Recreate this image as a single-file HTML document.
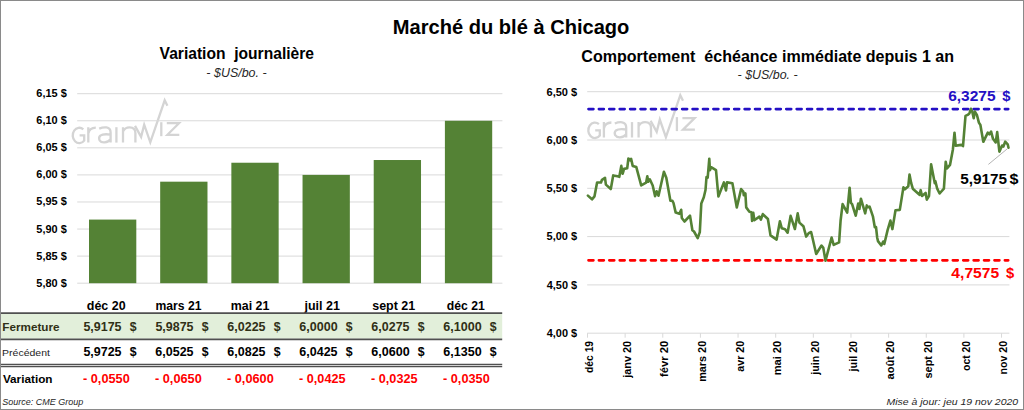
<!DOCTYPE html>
<html><head><meta charset="utf-8">
<style>
html,body{margin:0;padding:0;background:#fff;}
body{width:1024px;height:410px;overflow:hidden;position:relative;}
svg{position:absolute;left:0;top:0;font-family:"Liberation Sans", sans-serif;} text{white-space:pre;}
.frame{position:absolute;left:0;top:0;width:1022px;height:408px;border:1px solid #8a8a8a;}
</style></head><body>
<svg width="1024" height="410" viewBox="0 0 1024 410">
<text x="392.76" y="34.30" font-size="20.9" font-weight="bold" font-style="normal" fill="#000" textLength="236.63" lengthAdjust="spacingAndGlyphs">Marché du blé à Chicago</text>
<text x="159.59" y="59.30" font-size="15.8" font-weight="bold" font-style="normal" fill="#000" textLength="154.44" lengthAdjust="spacingAndGlyphs">Variation  journalière</text>
<text x="206.36" y="77.00" font-size="12.0" font-weight="normal" font-style="italic" fill="#262626" textLength="60.22" lengthAdjust="spacingAndGlyphs">- $US/bo. -</text>
<text x="581.34" y="62.30" font-size="16.1" font-weight="bold" font-style="normal" fill="#000" textLength="372.75" lengthAdjust="spacingAndGlyphs">Comportement  échéance immédiate depuis 1 an</text>
<text x="737.56" y="79.30" font-size="12.0" font-weight="normal" font-style="italic" fill="#262626" textLength="60.12" lengthAdjust="spacingAndGlyphs">- $US/bo. -</text>
<g transform="translate(0,0)" fill="none" stroke="#d4d4d4" stroke-width="2.3" stroke-linejoin="miter"><path d="M83.3,129.3 A6.6,7.7 0 1 0 84.2,140.6 L84.2,135.4 L79.6,135.4"/><path d="M88.3,127.2 L88.3,142.6 M88.3,133.5 Q89.5,127.8 95.8,127.6"/><path d="M99.2,128.6 Q103,127 106.5,127.4 Q110.6,128 110.6,132.5 L110.6,142.6 M110.6,134.6 Q103,133.6 100.3,135.6 Q98.3,137.5 99.6,140.3 Q101,142.6 104.5,142.4 Q108.6,142 110.6,139.3"/><path d="M116.4,127.2 L116.4,142.6"/><path d="M123.0,127.2 L123.0,142.6 M123.0,131.4 Q125,127.3 129.5,127.3 Q135.4,127.3 135.4,133 L135.4,142.6"/><polyline points="135.0,125.9 141.1,136.9 144.2,124.7 150.3,142.3 164.7,100.3 167.4,105.8"/><line x1="161.3" y1="122.2" x2="161.3" y2="136.2"/><polyline points="166.8,123.2 179,123.2 167.4,134.8 179.3,134.8"/></g>
<g transform="translate(515.6,-5.1)" fill="none" stroke="#d4d4d4" stroke-width="2.3" stroke-linejoin="miter"><path d="M83.3,129.3 A6.6,7.7 0 1 0 84.2,140.6 L84.2,135.4 L79.6,135.4"/><path d="M88.3,127.2 L88.3,142.6 M88.3,133.5 Q89.5,127.8 95.8,127.6"/><path d="M99.2,128.6 Q103,127 106.5,127.4 Q110.6,128 110.6,132.5 L110.6,142.6 M110.6,134.6 Q103,133.6 100.3,135.6 Q98.3,137.5 99.6,140.3 Q101,142.6 104.5,142.4 Q108.6,142 110.6,139.3"/><path d="M116.4,127.2 L116.4,142.6"/><path d="M123.0,127.2 L123.0,142.6 M123.0,131.4 Q125,127.3 129.5,127.3 Q135.4,127.3 135.4,133 L135.4,142.6"/><polyline points="135.0,125.9 141.1,136.9 144.2,124.7 150.3,142.3 164.7,100.3 167.4,105.8"/><line x1="161.3" y1="122.2" x2="161.3" y2="136.2"/><polyline points="166.8,123.2 179,123.2 167.4,134.8 179.3,134.8"/></g>
<line x1="77.20" y1="93.70" x2="502.40" y2="93.70" stroke="#d9d9d9" stroke-width="1" />
<text x="36.30" y="97.20" font-size="11.5" font-weight="bold" font-style="normal" fill="#000" textLength="30.46" lengthAdjust="spacingAndGlyphs">6,15 $</text>
<line x1="77.20" y1="120.77" x2="502.40" y2="120.77" stroke="#d9d9d9" stroke-width="1" />
<text x="36.30" y="124.27" font-size="11.5" font-weight="bold" font-style="normal" fill="#000" textLength="30.46" lengthAdjust="spacingAndGlyphs">6,10 $</text>
<line x1="77.20" y1="147.84" x2="502.40" y2="147.84" stroke="#d9d9d9" stroke-width="1" />
<text x="36.30" y="151.34" font-size="11.5" font-weight="bold" font-style="normal" fill="#000" textLength="30.46" lengthAdjust="spacingAndGlyphs">6,05 $</text>
<line x1="77.20" y1="174.91" x2="502.40" y2="174.91" stroke="#d9d9d9" stroke-width="1" />
<text x="36.30" y="178.41" font-size="11.5" font-weight="bold" font-style="normal" fill="#000" textLength="30.46" lengthAdjust="spacingAndGlyphs">6,00 $</text>
<line x1="77.20" y1="201.98" x2="502.40" y2="201.98" stroke="#d9d9d9" stroke-width="1" />
<text x="36.36" y="205.48" font-size="11.5" font-weight="bold" font-style="normal" fill="#000" textLength="30.39" lengthAdjust="spacingAndGlyphs">5,95 $</text>
<line x1="77.20" y1="229.05" x2="502.40" y2="229.05" stroke="#d9d9d9" stroke-width="1" />
<text x="36.36" y="232.55" font-size="11.5" font-weight="bold" font-style="normal" fill="#000" textLength="30.39" lengthAdjust="spacingAndGlyphs">5,90 $</text>
<line x1="77.20" y1="256.12" x2="502.40" y2="256.12" stroke="#d9d9d9" stroke-width="1" />
<text x="36.36" y="259.62" font-size="11.5" font-weight="bold" font-style="normal" fill="#000" textLength="30.39" lengthAdjust="spacingAndGlyphs">5,85 $</text>
<line x1="77.20" y1="283.19" x2="502.40" y2="283.19" stroke="#d9d9d9" stroke-width="1" />
<text x="36.36" y="286.69" font-size="11.5" font-weight="bold" font-style="normal" fill="#000" textLength="30.39" lengthAdjust="spacingAndGlyphs">5,80 $</text>
<rect x="89.00" y="219.58" width="47.30" height="63.61" fill="#548235"/>
<rect x="160.18" y="181.68" width="47.30" height="101.51" fill="#548235"/>
<rect x="231.36" y="162.73" width="47.30" height="120.46" fill="#548235"/>
<rect x="302.54" y="174.91" width="47.30" height="108.28" fill="#548235"/>
<rect x="373.72" y="160.02" width="47.30" height="123.17" fill="#548235"/>
<rect x="444.90" y="120.77" width="47.30" height="162.42" fill="#548235"/>
<rect x="1.00" y="314.00" width="501.20" height="24.60" fill="#e2efda"/>
<text x="86.79" y="309.60" font-size="12.2" font-weight="bold" font-style="normal" fill="#000" textLength="38.82" lengthAdjust="spacingAndGlyphs">déc 20</text>
<text x="83.42" y="330.70" font-size="12.6" font-weight="bold" font-style="normal" fill="#303016" textLength="38.13" lengthAdjust="spacingAndGlyphs">5,9175</text>
<text x="129.64" y="330.70" font-size="12.6" font-weight="bold" font-style="normal" fill="#303016" textLength="6.84" lengthAdjust="spacingAndGlyphs">$</text>
<text x="83.42" y="356.20" font-size="12.6" font-weight="bold" font-style="normal" fill="#000" textLength="38.13" lengthAdjust="spacingAndGlyphs">5,9725</text>
<text x="129.64" y="356.20" font-size="12.6" font-weight="bold" font-style="normal" fill="#000" textLength="6.84" lengthAdjust="spacingAndGlyphs">$</text>
<text x="83.00" y="383.20" font-size="12.6" font-weight="bold" font-style="normal" fill="#ff0000" textLength="46.72" lengthAdjust="spacingAndGlyphs">- 0,0550</text>
<text x="155.50" y="309.60" font-size="12.2" font-weight="bold" font-style="normal" fill="#000" textLength="46.04" lengthAdjust="spacingAndGlyphs">mars 21</text>
<text x="155.42" y="330.70" font-size="12.6" font-weight="bold" font-style="normal" fill="#303016" textLength="38.13" lengthAdjust="spacingAndGlyphs">5,9875</text>
<text x="201.64" y="330.70" font-size="12.6" font-weight="bold" font-style="normal" fill="#303016" textLength="6.84" lengthAdjust="spacingAndGlyphs">$</text>
<text x="155.34" y="356.20" font-size="12.6" font-weight="bold" font-style="normal" fill="#000" textLength="38.21" lengthAdjust="spacingAndGlyphs">6,0525</text>
<text x="201.64" y="356.20" font-size="12.6" font-weight="bold" font-style="normal" fill="#000" textLength="6.84" lengthAdjust="spacingAndGlyphs">$</text>
<text x="155.00" y="383.20" font-size="12.6" font-weight="bold" font-style="normal" fill="#ff0000" textLength="46.72" lengthAdjust="spacingAndGlyphs">- 0,0650</text>
<text x="230.78" y="309.60" font-size="12.2" font-weight="bold" font-style="normal" fill="#000" textLength="38.66" lengthAdjust="spacingAndGlyphs">mai 21</text>
<text x="227.34" y="330.70" font-size="12.6" font-weight="bold" font-style="normal" fill="#303016" textLength="38.21" lengthAdjust="spacingAndGlyphs">6,0225</text>
<text x="273.64" y="330.70" font-size="12.6" font-weight="bold" font-style="normal" fill="#303016" textLength="6.84" lengthAdjust="spacingAndGlyphs">$</text>
<text x="227.34" y="356.20" font-size="12.6" font-weight="bold" font-style="normal" fill="#000" textLength="38.21" lengthAdjust="spacingAndGlyphs">6,0825</text>
<text x="273.64" y="356.20" font-size="12.6" font-weight="bold" font-style="normal" fill="#000" textLength="6.84" lengthAdjust="spacingAndGlyphs">$</text>
<text x="227.00" y="383.20" font-size="12.6" font-weight="bold" font-style="normal" fill="#ff0000" textLength="46.72" lengthAdjust="spacingAndGlyphs">- 0,0600</text>
<text x="304.49" y="309.60" font-size="12.2" font-weight="bold" font-style="normal" fill="#000" textLength="35.35" lengthAdjust="spacingAndGlyphs">juil 21</text>
<text x="299.34" y="330.70" font-size="12.6" font-weight="bold" font-style="normal" fill="#303016" textLength="38.37" lengthAdjust="spacingAndGlyphs">6,0000</text>
<text x="345.64" y="330.70" font-size="12.6" font-weight="bold" font-style="normal" fill="#303016" textLength="6.84" lengthAdjust="spacingAndGlyphs">$</text>
<text x="299.34" y="356.20" font-size="12.6" font-weight="bold" font-style="normal" fill="#000" textLength="38.21" lengthAdjust="spacingAndGlyphs">6,0425</text>
<text x="345.64" y="356.20" font-size="12.6" font-weight="bold" font-style="normal" fill="#000" textLength="6.84" lengthAdjust="spacingAndGlyphs">$</text>
<text x="299.00" y="383.20" font-size="12.6" font-weight="bold" font-style="normal" fill="#ff0000" textLength="46.55" lengthAdjust="spacingAndGlyphs">- 0,0425</text>
<text x="372.26" y="309.60" font-size="12.2" font-weight="bold" font-style="normal" fill="#000" textLength="42.99" lengthAdjust="spacingAndGlyphs">sept 21</text>
<text x="371.34" y="330.70" font-size="12.6" font-weight="bold" font-style="normal" fill="#303016" textLength="38.21" lengthAdjust="spacingAndGlyphs">6,0275</text>
<text x="417.64" y="330.70" font-size="12.6" font-weight="bold" font-style="normal" fill="#303016" textLength="6.84" lengthAdjust="spacingAndGlyphs">$</text>
<text x="371.34" y="356.20" font-size="12.6" font-weight="bold" font-style="normal" fill="#000" textLength="38.37" lengthAdjust="spacingAndGlyphs">6,0600</text>
<text x="417.64" y="356.20" font-size="12.6" font-weight="bold" font-style="normal" fill="#000" textLength="6.84" lengthAdjust="spacingAndGlyphs">$</text>
<text x="371.00" y="383.20" font-size="12.6" font-weight="bold" font-style="normal" fill="#ff0000" textLength="46.55" lengthAdjust="spacingAndGlyphs">- 0,0325</text>
<text x="446.80" y="309.60" font-size="12.2" font-weight="bold" font-style="normal" fill="#000" textLength="37.94" lengthAdjust="spacingAndGlyphs">déc 21</text>
<text x="443.34" y="330.70" font-size="12.6" font-weight="bold" font-style="normal" fill="#303016" textLength="38.37" lengthAdjust="spacingAndGlyphs">6,1000</text>
<text x="489.64" y="330.70" font-size="12.6" font-weight="bold" font-style="normal" fill="#303016" textLength="6.84" lengthAdjust="spacingAndGlyphs">$</text>
<text x="443.34" y="356.20" font-size="12.6" font-weight="bold" font-style="normal" fill="#000" textLength="38.37" lengthAdjust="spacingAndGlyphs">6,1350</text>
<text x="489.64" y="356.20" font-size="12.6" font-weight="bold" font-style="normal" fill="#000" textLength="6.84" lengthAdjust="spacingAndGlyphs">$</text>
<text x="443.00" y="383.20" font-size="12.6" font-weight="bold" font-style="normal" fill="#ff0000" textLength="46.72" lengthAdjust="spacingAndGlyphs">- 0,0350</text>
<text x="2.32" y="330.70" font-size="11.5" font-weight="bold" font-style="normal" fill="#303016" textLength="57.18" lengthAdjust="spacingAndGlyphs">Fermeture</text>
<text x="2.14" y="355.90" font-size="9.6" font-weight="normal" font-style="normal" fill="#1e1e1e" textLength="47.74" lengthAdjust="spacingAndGlyphs">Précédent</text>
<text x="2.92" y="382.90" font-size="11.8" font-weight="bold" font-style="normal" fill="#000" textLength="49.60" lengthAdjust="spacingAndGlyphs">Variation</text>
<text x="2.35" y="404.50" font-size="9.9" font-weight="normal" font-style="italic" fill="#262626" textLength="80.94" lengthAdjust="spacingAndGlyphs">Source: CME Group</text>
<line x1="1.00" y1="313.20" x2="502.20" y2="313.20" stroke="#505050" stroke-width="1.7" />
<line x1="1.00" y1="339.30" x2="502.20" y2="339.30" stroke="#505050" stroke-width="1.7" />
<line x1="1.00" y1="364.50" x2="502.20" y2="364.50" stroke="#505050" stroke-width="1.3" />
<line x1="1.00" y1="366.60" x2="502.20" y2="366.60" stroke="#505050" stroke-width="1.3" />
<line x1="587.20" y1="91.70" x2="1009.40" y2="91.70" stroke="#d9d9d9" stroke-width="1" />
<text x="546.50" y="95.50" font-size="11.5" font-weight="bold" font-style="normal" fill="#000" textLength="30.66" lengthAdjust="spacingAndGlyphs">6,50 $</text>
<line x1="587.20" y1="140.00" x2="1009.40" y2="140.00" stroke="#d9d9d9" stroke-width="1" />
<text x="546.50" y="143.80" font-size="11.5" font-weight="bold" font-style="normal" fill="#000" textLength="30.66" lengthAdjust="spacingAndGlyphs">6,00 $</text>
<line x1="587.20" y1="188.30" x2="1009.40" y2="188.30" stroke="#d9d9d9" stroke-width="1" />
<text x="546.56" y="192.10" font-size="11.5" font-weight="bold" font-style="normal" fill="#000" textLength="30.59" lengthAdjust="spacingAndGlyphs">5,50 $</text>
<line x1="587.20" y1="236.60" x2="1009.40" y2="236.60" stroke="#d9d9d9" stroke-width="1" />
<text x="546.56" y="240.40" font-size="11.5" font-weight="bold" font-style="normal" fill="#000" textLength="30.59" lengthAdjust="spacingAndGlyphs">5,00 $</text>
<line x1="587.20" y1="284.90" x2="1009.40" y2="284.90" stroke="#d9d9d9" stroke-width="1" />
<text x="546.73" y="288.70" font-size="11.5" font-weight="bold" font-style="normal" fill="#000" textLength="30.42" lengthAdjust="spacingAndGlyphs">4,50 $</text>
<line x1="587.20" y1="333.20" x2="1009.40" y2="333.20" stroke="#d9d9d9" stroke-width="1" />
<text x="546.73" y="337.00" font-size="11.5" font-weight="bold" font-style="normal" fill="#000" textLength="30.42" lengthAdjust="spacingAndGlyphs">4,00 $</text>
<line x1="587.50" y1="333.20" x2="587.50" y2="337.70" stroke="#d9d9d9" stroke-width="1" />
<text transform="translate(593.10,372.50) rotate(-90)" x="-0.42" y="0.00" font-size="10.8" font-weight="bold" font-style="normal" fill="#000" textLength="32.00" lengthAdjust="spacingAndGlyphs">déc 19</text>
<line x1="625.14" y1="333.20" x2="625.14" y2="337.70" stroke="#d9d9d9" stroke-width="1" />
<text transform="translate(630.74,377.90) rotate(-90)" x="0.17" y="0.00" font-size="10.8" font-weight="bold" font-style="normal" fill="#000" textLength="36.88" lengthAdjust="spacingAndGlyphs">janv 20</text>
<line x1="662.78" y1="333.20" x2="662.78" y2="337.70" stroke="#d9d9d9" stroke-width="1" />
<text transform="translate(668.38,376.80) rotate(-90)" x="-0.19" y="0.00" font-size="10.8" font-weight="bold" font-style="normal" fill="#000" textLength="36.15" lengthAdjust="spacingAndGlyphs">févr 20</text>
<line x1="700.42" y1="333.20" x2="700.42" y2="337.70" stroke="#d9d9d9" stroke-width="1" />
<text transform="translate(706.02,381.10) rotate(-90)" x="-0.71" y="0.00" font-size="10.8" font-weight="bold" font-style="normal" fill="#000" textLength="40.96" lengthAdjust="spacingAndGlyphs">mars 20</text>
<line x1="738.06" y1="333.20" x2="738.06" y2="337.70" stroke="#d9d9d9" stroke-width="1" />
<text transform="translate(743.66,371.40) rotate(-90)" x="-0.31" y="0.00" font-size="10.8" font-weight="bold" font-style="normal" fill="#000" textLength="30.85" lengthAdjust="spacingAndGlyphs">avr 20</text>
<line x1="775.70" y1="333.20" x2="775.70" y2="337.70" stroke="#d9d9d9" stroke-width="1" />
<text transform="translate(781.30,374.60) rotate(-90)" x="-0.73" y="0.00" font-size="10.8" font-weight="bold" font-style="normal" fill="#000" textLength="34.48" lengthAdjust="spacingAndGlyphs">mai 20</text>
<line x1="813.34" y1="333.20" x2="813.34" y2="337.70" stroke="#d9d9d9" stroke-width="1" />
<text transform="translate(818.94,374.80) rotate(-90)" x="0.17" y="0.00" font-size="10.8" font-weight="bold" font-style="normal" fill="#000" textLength="33.77" lengthAdjust="spacingAndGlyphs">juin 20</text>
<line x1="850.98" y1="333.20" x2="850.98" y2="337.70" stroke="#d9d9d9" stroke-width="1" />
<text transform="translate(856.58,371.60) rotate(-90)" x="0.17" y="0.00" font-size="10.8" font-weight="bold" font-style="normal" fill="#000" textLength="30.57" lengthAdjust="spacingAndGlyphs">juil 20</text>
<line x1="888.62" y1="333.20" x2="888.62" y2="337.70" stroke="#d9d9d9" stroke-width="1" />
<text transform="translate(894.22,379.10) rotate(-90)" x="-0.32" y="0.00" font-size="10.8" font-weight="bold" font-style="normal" fill="#000" textLength="38.57" lengthAdjust="spacingAndGlyphs">août 20</text>
<line x1="926.26" y1="333.20" x2="926.26" y2="337.70" stroke="#d9d9d9" stroke-width="1" />
<text transform="translate(931.86,378.10) rotate(-90)" x="-0.38" y="0.00" font-size="10.8" font-weight="bold" font-style="normal" fill="#000" textLength="37.63" lengthAdjust="spacingAndGlyphs">sept 20</text>
<line x1="963.90" y1="333.20" x2="963.90" y2="337.70" stroke="#d9d9d9" stroke-width="1" />
<text transform="translate(969.50,370.50) rotate(-90)" x="-0.41" y="0.00" font-size="10.8" font-weight="bold" font-style="normal" fill="#000" textLength="30.03" lengthAdjust="spacingAndGlyphs">oct 20</text>
<line x1="1001.54" y1="333.20" x2="1001.54" y2="337.70" stroke="#d9d9d9" stroke-width="1" />
<text transform="translate(1007.14,373.80) rotate(-90)" x="-0.70" y="0.00" font-size="10.8" font-weight="bold" font-style="normal" fill="#000" textLength="33.64" lengthAdjust="spacingAndGlyphs">nov 20</text>
<line x1="588.50" y1="109.10" x2="1008.20" y2="109.10" stroke="#2410c4" stroke-width="2.7" stroke-dasharray="4.9 5.51" stroke-linecap="round"/>
<line x1="588.50" y1="260.30" x2="1008.20" y2="260.30" stroke="#ff0000" stroke-width="2.7" stroke-dasharray="4.9 5.51" stroke-linecap="round"/>
<polyline points="587.9,195.6 592.0,199.3 594.5,196.3 597.1,182.5 601.0,182.5 602.0,179.8 605.0,177.8 605.9,184.6 610.8,189.0 613.2,175.4 617.6,176.3 619.3,176.8 621.3,165.9 622.6,173.8 624.1,168.9 627.2,168.3 628.4,158.5 630.2,160.4 631.1,158.8 632.7,165.9 636.3,167.1 641.2,185.4 646.1,182.7 647.3,176.2 648.2,181.7 649.8,179.3 652.7,185.5 655.1,196.2 656.6,191.3 658.5,195.7 663.9,171.8 666.3,177.7 670.4,200.8 672.4,200.8 673.5,203.0 675.7,212.6 679.4,213.8 681.2,209.8 681.8,218.0 684.5,221.5 690.0,215.6 692.4,230.2 694.0,231.5 697.7,238.2 699.8,232.1 701.3,203.4 703.8,197.3 705.5,190.0 706.5,177.0 707.7,177.6 709.3,158.7 709.9,170.2 711.1,167.2 716.0,170.2 718.4,196.5 723.9,182.4 726.0,190.4 727.0,182.4 732.4,183.3 736.8,207.4 741.1,189.1 743.3,191.6 743.8,195.2 745.4,193.4 746.2,207.4 749.4,211.7 751.5,212.3 752.1,220.9 753.3,212.9 754.3,220.2 759.4,216.6 760.9,219.6 762.8,214.1 767.9,219.0 770.5,235.4 776.6,239.6 779.9,221.3 781.8,228.3 785.1,229.3 787.6,232.7 790.6,215.9 794.9,229.0 797.7,213.4 799.4,222.6 803.4,226.2 806.2,236.6 808.7,233.2 811.1,232.0 812.3,237.0 816.2,254.0 821.5,245.5 823.3,247.9 825.5,260.7 831.6,237.6 833.7,244.9 839.1,242.4 840.6,220.5 842.6,204.1 847.2,212.7 849.6,187.7 850.9,202.9 852.1,204.1 855.7,215.7 858.2,203.5 859.4,209.0 860.9,198.7 865.2,213.3 866.8,205.4 868.0,207.2 869.6,206.6 872.9,216.3 874.8,227.3 876.0,227.0 877.2,237.7 878.0,241.1 881.3,245.5 883.2,241.5 884.3,244.0 887.6,230.1 890.4,220.6 892.4,229.1 895.5,210.2 899.8,209.9 903.4,187.4 904.9,189.3 908.3,186.2 909.5,174.6 911.2,183.2 912.8,188.7 919.5,194.8 920.7,190.2 922.0,196.0 925.6,192.9 926.8,199.6 929.0,196.0 931.1,164.3 934.8,183.2 935.4,181.3 937.2,188.7 939.6,193.5 943.9,188.7 945.7,161.8 947.0,168.5 950.0,164.9 952.9,149.4 954.5,132.7 955.7,145.7 959.4,145.1 961.5,144.9 963.0,146.1 965.5,115.9 967.6,114.9 969.4,113.4 970.9,108.8 972.4,112.2 973.7,118.3 974.9,111.6 977.0,115.2 978.9,122.6 980.4,125.0 983.3,141.8 987.8,132.7 989.4,134.3 991.1,131.5 993.0,138.8 995.7,142.4 997.2,132.1 999.4,151.6 1002.1,145.5 1003.3,146.7 1005.2,141.6 1007.7,144.3 1008.5,147.7" fill="none" stroke="#548235" stroke-width="2.6" stroke-linejoin="round" stroke-linecap="round"/>
<text x="948.23" y="101.00" font-size="14.8" font-weight="bold" font-style="normal" fill="#2410c4" textLength="47.30" lengthAdjust="spacingAndGlyphs">6,3275</text>
<text x="1002.21" y="101.00" font-size="14.8" font-weight="bold" font-style="normal" fill="#2410c4" textLength="8.20" lengthAdjust="spacingAndGlyphs">$</text>
<text x="951.36" y="277.80" font-size="14.8" font-weight="bold" font-style="normal" fill="#ff0000" textLength="47.77" lengthAdjust="spacingAndGlyphs">4,7575</text>
<text x="1005.91" y="277.80" font-size="14.8" font-weight="bold" font-style="normal" fill="#ff0000" textLength="8.20" lengthAdjust="spacingAndGlyphs">$</text>
<text x="960.23" y="183.90" font-size="15.0" font-weight="bold" font-style="normal" fill="#000" textLength="46.90" lengthAdjust="spacingAndGlyphs">5,9175</text>
<text x="1009.59" y="183.90" font-size="15.0" font-weight="bold" font-style="normal" fill="#000" textLength="8.94" lengthAdjust="spacingAndGlyphs">$</text>
<line x1="988.40" y1="164.40" x2="1007.30" y2="148.80" stroke="#b4b4b4" stroke-width="1" />
<text x="886.48" y="404.50" font-size="9.8" font-weight="normal" font-style="italic" fill="#262626" textLength="131.71" lengthAdjust="spacingAndGlyphs">Mise à jour: jeu 19 nov 2020</text>
</svg>
<div class="frame"></div>
</body></html>
